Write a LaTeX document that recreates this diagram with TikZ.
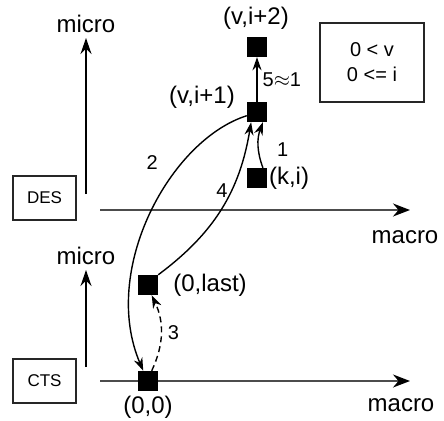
\documentclass[tikz,border=0pt]{standalone}
\usepackage{fontspec}
\setmainfont{Liberation Sans}
\usetikzlibrary{arrows.meta}

\begin{document}
\begin{tikzpicture}[
    x=1pt,y=1pt,
    state/.style={fill=black,minimum size=20pt,inner sep=0pt},
    lbl/.style={font=\fontsize{24}{28}\selectfont,inner sep=0pt},
    elbl/.style={font=\fontsize{20}{24}\selectfont,inner sep=0pt},
    kind/.style={draw,line width=1.1pt,color=black!85,text=black,minimum width=63pt,minimum height=44pt,font=\fontsize{17}{20}\selectfont},
    axis/.style={-{Stealth[length=17pt,width=13pt,color=black]},line width=1.9pt,color=black!70},
    uparrow/.style={-{Stealth[length=16pt,width=11pt]},line width=1.4pt},
    edge/.style={-{Stealth[length=13pt,width=9pt]},line width=1.4pt},
]
\useasboundingbox (0,0) rectangle (444,-420);
% level boxes
\node[kind](des)at(44.5,-198){DES};
\node[kind](cts)at(44.5,-381){CTS};
% axes
\coordinate(dx0)at(100,-210);\coordinate(dx1)at(410,-210);
\coordinate(cx0)at(100,-381);\coordinate(cx1)at(410,-381);
\coordinate(dy0)at(86,-194);\coordinate(dy1)at(86,-38);
\coordinate(cy0)at(86,-367);\coordinate(cy1)at(86,-270);
\draw[axis](dx0)--(dx1);
\draw[axis](cx0)--(cx1);
\draw[uparrow](dy0)--(dy1);
\draw[uparrow](cy0)--(cy1);
\node[lbl](dmicro)at(86,-24){micro};
\node[lbl](cmicro)at(86,-256){micro};
\node[lbl](dmacro)at(405,-237){macro};
\node[lbl](cmacro)at(401,-405){macro};
% states
\node[state](vi2)at(257,-47){};
\node[state](vi1)at(257,-112){};
\node[state](ki)at(257,-178){};
\node[state](olast)at(148,-285){};
\node[state](oo)at(148,-381){};
\node[lbl](vi2lbl)at(256,-18){(v,i+2)};
\node[lbl](vi1lbl)at(202,-97){(v,i+1)};
\node[lbl](kilbl)at(289,-178){(k,i)};
\node[lbl](olastlbl)at(210,-285){(0,last)};
\node[lbl](oolbl)at(148,-407){(0,0)};
% transitions
\draw[edge](ki.60)to[bend left=20]node[elbl,pos=0.4,right=18pt](l1){1}(vi1.300);
\draw[edge](vi1.200)..controls(170,-140)and(100,-270)..node[elbl,pos=0.3,left=24pt](l2){2}(oo.115);
\draw[edge,dashed,dash pattern=on 6pt off 4pt](oo.70)to[bend right=25]node[elbl,pos=0.5,right=6pt](l3){3}(olast.290);
\draw[edge](olast.north east)to[bend right=22]node[elbl,pos=0.62,left=3pt](l4){4}(vi1.240);
\draw[edge](vi1)--node[elbl,midway,right=5pt](l5){5$\approx$1}(vi2);
% constraints
\node[draw,line width=1.1pt,color=black!85,text=black,minimum width=104pt,minimum height=79pt,align=center,font=\fontsize{20}{25}\selectfont](cond)at(372,-62.5){0 < v\\0 <= i};
\end{tikzpicture}
\end{document}
